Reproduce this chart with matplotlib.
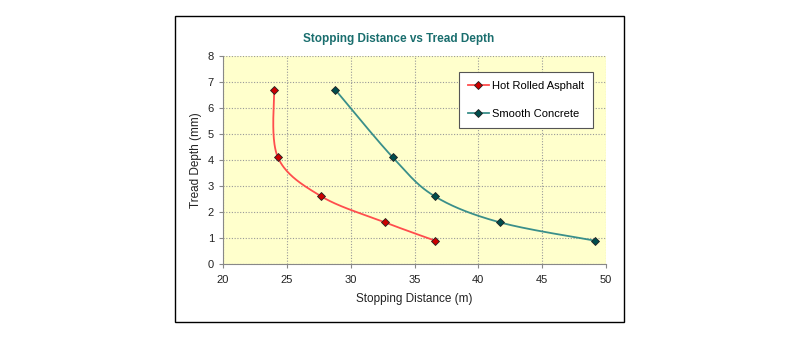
import numpy as np
import matplotlib.pyplot as plt
from matplotlib.patches import Rectangle

plt.rcParams['font.family'] = ['Liberation Sans', 'DejaVu Sans']

# data
asphalt_dist = [24.0, 24.3, 27.7, 32.7, 36.6]
asphalt_depth = [6.7, 4.1, 2.6, 1.6, 0.9]
concrete_dist = [28.8, 33.3, 36.6, 41.7, 49.1]
concrete_depth = [6.7, 4.1, 2.6, 1.6, 0.9]


def smooth(xs, ys, n=40):
    # Excel style smoothed line: cubic bezier through the points
    p = np.column_stack([xs, ys]).astype(float)
    p = np.vstack([p[0], p, p[-1]])
    out = []
    t = np.linspace(0, 1, n)[:, None]
    for i in range(1, len(p) - 2):
        p0, p1 = p[i], p[i + 1]
        c1 = p0 + (p[i + 1] - p[i - 1]) / 6
        c2 = p1 - (p[i + 2] - p[i]) / 6
        seg = ((1 - t) ** 3) * p0 + 3 * ((1 - t) ** 2) * t * c1 + 3 * (1 - t) * t ** 2 * c2 + t ** 3 * p1
        out.append(seg)
    out = np.vstack(out)
    return out[:, 0], out[:, 1]


fig = plt.figure(figsize=(8, 3.37), dpi=100)
fig.patches.append(Rectangle((174.5 / 800, 1 - 322 / 337), 449.5 / 800, 306 / 337,
                             transform=fig.transFigure, fill=False, edgecolor='black', lw=1))

ax = fig.add_axes([223 / 800, 1 - 264 / 337, 383 / 800, 208 / 337])
ax.set_facecolor('#ffffcc')

red_line = '#ff4d4d'
teal_line = '#3a8f8a'

sx, sy = smooth(asphalt_dist, asphalt_depth)
ax.plot(sx, sy, color=red_line, lw=1.3, zorder=3)
ax.plot(asphalt_dist, asphalt_depth, ls='none', marker='D', ms=4, mfc='#cc0000', mec='#222222', mew=0.6, zorder=4)
sx, sy = smooth(concrete_dist, concrete_depth)
ax.plot(sx, sy, color=teal_line, lw=1.3, zorder=3)
ax.plot(concrete_dist, concrete_depth, ls='none', marker='D', ms=4, mfc='#004d4d', mec='#222222', mew=0.6, zorder=4)

# legend handles
h1, = ax.plot([], [], color=red_line, lw=1.3, marker='D', ms=4, mfc='#cc0000', mec='#222222', mew=0.6)
h2, = ax.plot([], [], color=teal_line, lw=1.3, marker='D', ms=4, mfc='#004d4d', mec='#222222', mew=0.6)
leg = ax.legend([h1, h2], ['Hot Rolled Asphalt', 'Smooth Concrete'], loc='upper left',
                bbox_to_anchor=((459 - 223) / 383, (264 - 72) / 208), borderaxespad=0,
                fontsize=8, fancybox=False, framealpha=1, edgecolor='#555555',
                handlelength=1.9, labelspacing=1.6, borderpad=0.8, handletextpad=0.3)
leg.get_frame().set_linewidth(0.8)

ax.set_xlim(20, 50)
ax.set_ylim(0, 8)
ax.set_xticks(range(20, 51, 5))
ax.set_yticks(range(0, 9))
ax.grid(True, color='#999999', ls=(0, (1, 1.5)), lw=0.8)
ax.set_axisbelow(True)
for s in ['top', 'right']:
    ax.spines[s].set_visible(False)
for s in ['left', 'bottom']:
    ax.spines[s].set_color('#888888')
ax.tick_params(labelsize=8, color='#888888', length=3, labelcolor='#222222')
ax.tick_params(axis='x', pad=5)

ax.set_xlabel('Stopping Distance (m)', fontsize=8.5, color='#222222', labelpad=6)
ax.set_ylabel('Tread Depth (mm)', fontsize=8.5, color='#222222', labelpad=4)
fig.text(399 / 800, 1 - 39 / 337, 'Stopping Distance vs Tread Depth', ha='center', va='center',
         fontsize=8.5, fontweight='bold', color='#1a6e6e')

fig.savefig('out.png', dpi=100)
